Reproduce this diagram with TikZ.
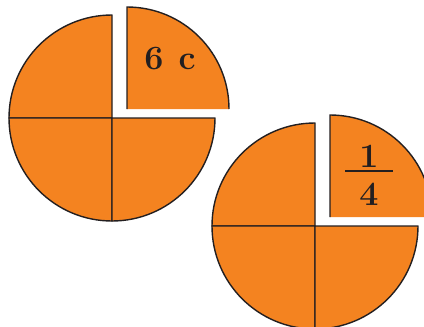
\documentclass[tikz,border=0pt]{standalone}
\definecolor{pieorange}{RGB}{244,131,32}
\definecolor{edge}{RGB}{35,31,32}
\tikzset{
  piece/.style={fill=pieorange,draw=edge,line width=1.4pt,line join=round},
  pulled/.style={fill=pieorange},
  pulledline/.style={draw=edge,line width=1.4pt},
  label/.style={font=\fontsize{34}{34}\selectfont\bfseries,text=edge,inner sep=0pt}
}
\begin{document}
\begin{tikzpicture}[x=1pt,y=-1pt]
\useasboundingbox (0,0) rectangle (424,327);
% left circle
\coordinate (c1) at (112,118);
\path[piece] (c1) -- ++(0,-103) arc[start angle=270,end angle=180,radius=103] -- cycle;
\path[piece] (c1) -- ++(-103,0) arc[start angle=180,end angle=90,radius=103] -- cycle;
\path[piece] (c1) -- ++(0,103) arc[start angle=90,end angle=0,radius=103] -- cycle;
\coordinate (w1) at (127,109);
\path[pulled] (w1) -- ++(102,0) arc[start angle=0,end angle=-90,radius=102] -- cycle;
\draw[pulledline] (w1) ++(102,0) arc[start angle=0,end angle=-90,radius=102] -- (w1);
\node[label] (t1) at (170,59) {6\hspace{0.45em}c};
% right circle
\coordinate (c2) at (315,226);
\path[piece] (c2) -- ++(0,-103) arc[start angle=270,end angle=180,radius=103] -- cycle;
\path[piece] (c2) -- ++(-103,0) arc[start angle=180,end angle=90,radius=103] -- cycle;
\path[piece] (c2) -- ++(0,103) arc[start angle=90,end angle=0,radius=103] -- cycle;
\coordinate (w2) at (330,217);
\path[pulled] (w2) -- ++(102,0) arc[start angle=0,end angle=-90,radius=102] -- cycle;
\draw[pulledline] (w2) ++(102,0) arc[start angle=0,end angle=-90,radius=102] -- (w2);
\node[label] (n1) at (369,156) {1};
\node[label] (n4) at (369,194) {4};
\coordinate (b1) at (345,171);
\coordinate (b2) at (393,171);
\draw[edge,line width=1.2pt] (b1) -- (b2);
\end{tikzpicture}
\end{document}
